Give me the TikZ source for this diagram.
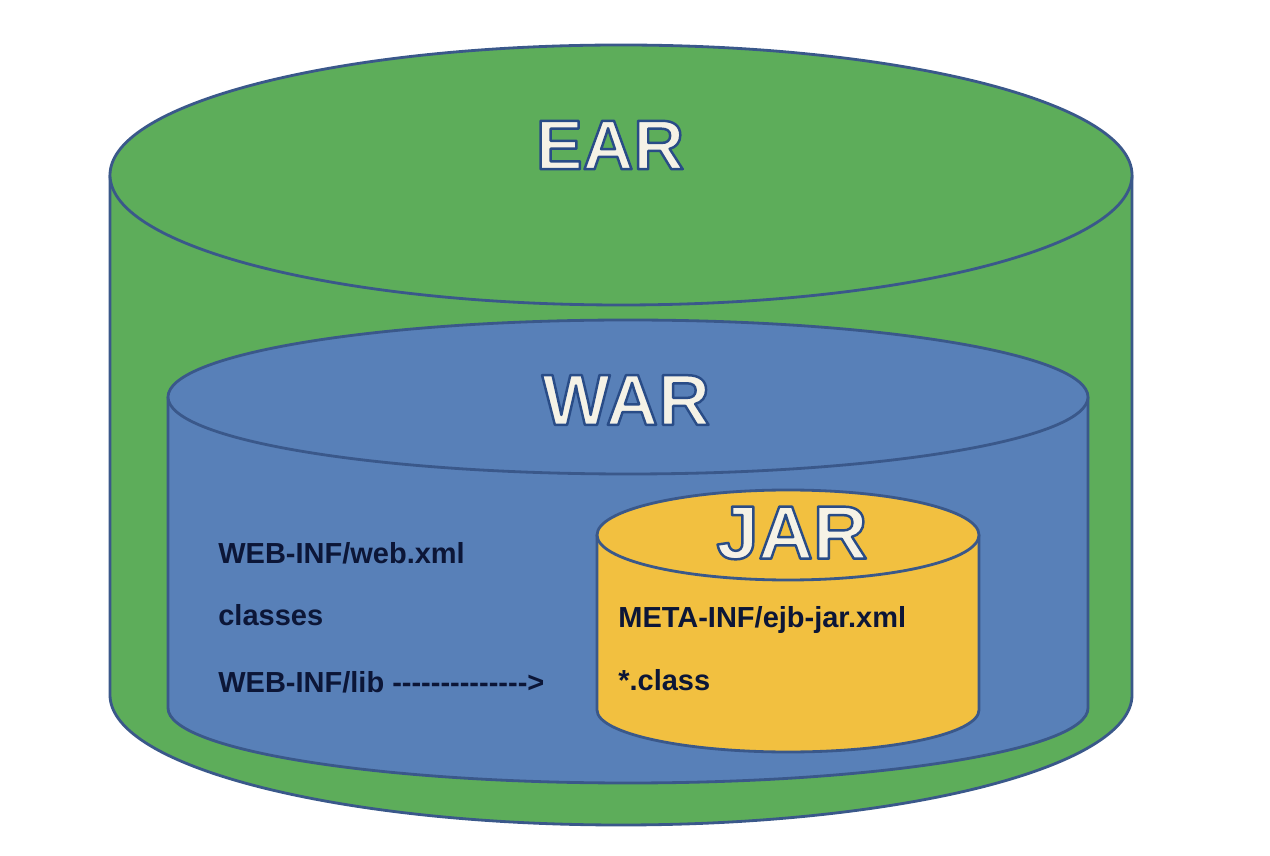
\documentclass[tikz,border=0pt]{standalone}
\usepackage{fontspec}
\setmainfont{Liberation Sans}
\newfontfamily\filefont{Liberation Sans}[Ligatures=TeXOff]

\definecolor{earfill}{RGB}{93,173,90}
\definecolor{warfill}{RGB}{88,128,184}
\definecolor{jarfill}{RGB}{242,192,64}
\definecolor{rim}{RGB}{58,88,138}
\definecolor{titlewhite}{RGB}{245,242,230}
\definecolor{filetext}{RGB}{12,22,55}

\tikzset{
  rimline/.style={draw=rim, line width=1.6pt, line join=round},
  title/.style={font=\bfseries\fontsize{40}{48}\selectfont, inner sep=0pt},
  filename/.style={anchor=west, inner sep=0pt, text=filetext,
    font=\filefont\bfseries\fontsize{16.5}{20}\selectfont}
}
% white letters with a dark blue outline (fill and stroke text mode)
\newcommand{\outlined}[1]{{\color{titlewhite}%
  \special{pdf:literal direct 0.16 0.30 0.53 RG 1.4 w 1 j 2 Tr}#1%
  \special{pdf:literal direct 0 Tr}}}

\begin{document}
\begin{tikzpicture}[x=0.02cm, y=0.02cm]
	\useasboundingbox (0,0) rectangle (1270,855);
	% EAR
	\filldraw[rimline, fill=earfill] (110,680) -- (110,160)
		arc[start angle=180, end angle=360, x radius=511, y radius=130] -- (1132,680);
	\filldraw[rimline, fill=earfill] (621,680) ellipse[x radius=511, y radius=130];
	\node[title] (ear) at (610,710) {\outlined{EAR}};
	% WAR
	\filldraw[rimline, fill=warfill] (168,458) -- (168,147)
		arc[start angle=180, end angle=360, x radius=460, y radius=75] -- (1088,458);
	\filldraw[rimline, fill=warfill] (628,458) ellipse[x radius=460, y radius=77];
	\node[title, font=\bfseries\fontsize{41}{50}\selectfont] (war) at (626,455) {\outlined{WAR}};
	% JAR
	\filldraw[rimline, fill=jarfill] (597,320) -- (597,145)
		arc[start angle=180, end angle=360, x radius=191, y radius=42] -- (979,320);
	\filldraw[rimline, fill=jarfill] (788,320) ellipse[x radius=191, y radius=45];
	\node[title, font=\bfseries\fontsize{43}{52}\selectfont] (jar) at (792,322) {\outlined{JAR}};
	% contents
	\node[filename] (webxml) at (218,302) {WEB-INF/web.xml};
	\node[filename] (classes) at (218,240) {classes};
	\node[filename] (lib) at (218,173) {WEB-INF/lib -------------->};
	\node[filename] (ejbxml) at (618,235) {META-INF/ejb-jar.xml};
	\node[filename] (classfiles) at (618,175) {*.class};
\end{tikzpicture}
\end{document}
